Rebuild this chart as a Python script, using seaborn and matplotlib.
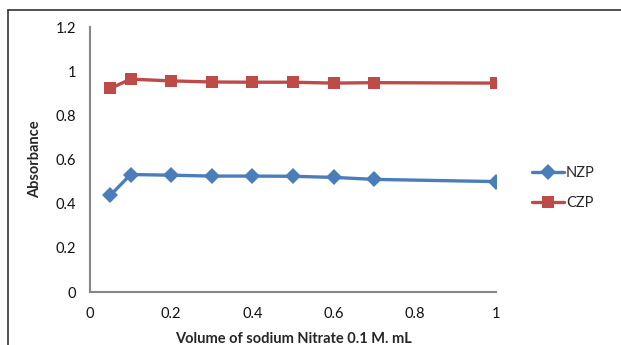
import matplotlib
matplotlib.use("Agg")
import matplotlib.pyplot as plt
import seaborn as sns
import pandas as pd

volume = [0.05, 0.1, 0.2, 0.3, 0.4, 0.5, 0.6, 0.7, 1.0]
nzp = [0.438, 0.532, 0.529, 0.525, 0.525, 0.524, 0.519, 0.510, 0.500]
czp = [0.922, 0.964, 0.956, 0.951, 0.950, 0.950, 0.946, 0.948, 0.946]
series_names = ["NZP", "CZP"]
x_ticks = [0, 0.2, 0.4, 0.6, 0.8, 1]
x_tick_labels = ["0", "0.2", "0.4", "0.6", "0.8", "1"]
y_ticks = [0, 0.2, 0.4, 0.6, 0.8, 1, 1.2]
y_tick_labels = ["0", "0.2", "0.4", "0.6", "0.8", "1", "1.2"]

df = pd.DataFrame({
    "Volume": volume * 2,
    "Absorbance": nzp + czp,
    "Series": [series_names[0]] * len(volume) + [series_names[1]] * len(volume),
})

sns.set_theme(style="white")
plt.rcParams["font.family"] = ["Lato", "DejaVu Sans"]

fig = plt.figure(figsize=(6.21, 3.45), dpi=100)
ax = fig.add_axes([0.1449, 0.1536, 0.6538, 0.7681])

palette = {"NZP": "#4a7ebb", "CZP": "#be4b48"}
sns.lineplot(data=df, x="Volume", y="Absorbance", hue="Series", style="Series",
             markers={"NZP": "D", "CZP": "s"}, dashes=False, palette=palette,
             linewidth=2.4, markersize=8.5, markeredgewidth=0, ax=ax, legend=True)

ax.set_xlim(0, 1)
ax.set_ylim(0, 1.2)
ax.set_xticks(x_ticks)
ax.set_xticklabels(x_tick_labels)
ax.set_yticks(y_ticks)
ax.set_yticklabels(y_tick_labels)
ax.tick_params(axis="both", which="major", direction="out", length=4, width=1,
               color="#868686", labelsize=10.5, labelcolor="#111111", pad=6)
ax.tick_params(axis="x", pad=7)
for side in ["top", "right"]:
    ax.spines[side].set_visible(False)
for side in ["left", "bottom"]:
    ax.spines[side].set_color("#868686")
    ax.spines[side].set_linewidth(1.5)
ax.set_xlabel("Volume of sodium Nitrate 0.1 M. mL", fontsize=10.5, fontweight="bold", labelpad=8)
ax.set_ylabel("Absorbance", fontsize=10.5, fontweight="bold", labelpad=10)

handles, labels = ax.get_legend_handles_labels()
ax.get_legend().remove()
fig.legend(handles, labels, loc="center left", bbox_to_anchor=(0.835, 0.455),
           frameon=False, fontsize=10.5, handlelength=2.2, handletextpad=0.15,
           labelspacing=1.1)

# outer frame (chart border)
fig.add_artist(plt.Line2D([0.013, 1.0], [0.971, 0.971], color="#333333", lw=1.2,
                          transform=fig.transFigure))
fig.add_artist(plt.Line2D([0.013, 0.013], [0.0, 0.971], color="#333333", lw=1.2,
                          transform=fig.transFigure))

fig.savefig("out.png", dpi=100)
